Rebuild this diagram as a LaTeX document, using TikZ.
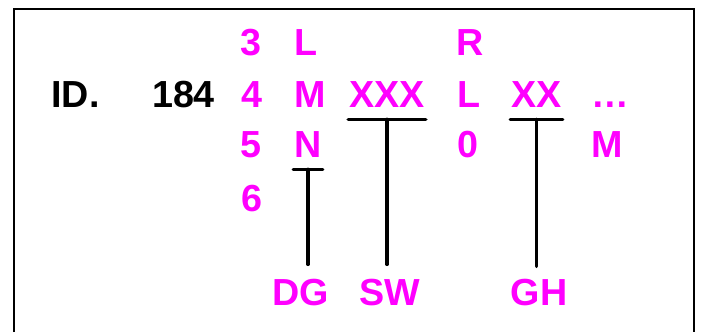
\documentclass[tikz,border=0pt]{standalone}
\usepackage{fontspec}
\setmainfont{Liberation Sans}
\definecolor{codepink}{HTML}{FF00FF}

\begin{document}
\begin{tikzpicture}[x=1pt, y=1pt,
    code/.style={
        font=\bfseries\fontsize{37.7}{40}\selectfont, text=codepink,
        anchor=base, inner xsep=1pt, inner ysep=11pt
    },
    head/.style={
        code, text=black
    },
    bar/.style={
        line width=3.2pt, line cap=round
    }
]
\useasboundingbox (0,0) rectangle (701,332);

% Frame (open at the bottom)
\draw[line width=2pt] (13.5,0) -- (13.5,322.7) -- (694,322.7) -- (694,0);

% Row 1
\node[code] (r1a) at (251, 276) {3};
\node[code] (r1b) at (306, 276) {L};
\node[code] (r1c) at (470, 276) {R};

% Row 2
\node[head] (id)  at (75.5, 224) {ID.};
\node[head] (num) at (183.5, 224) {184};
\node[code] (r2a) at (252, 224) {4};
\node[code] (r2b) at (310, 224) {M};
\node[code] (xxx) at (387, 224) {XXX};
\node[code] (r2c) at (469, 224) {L};
\node[code] (xx)  at (536.5, 224) {XX};
\node[code] (dots) at (610, 224) {…};

% Row 3
\node[code] (r3a) at (251, 174) {5};
\node[code] (n)   at (308, 174) {N};
\node[code] (r3c) at (467.5, 174) {0};
\node[code] (r3d) at (607.5, 174) {M};

% Row 4
\node[code] (r4a) at (251.5, 120) {6};

% Field labels
\node[code, inner ysep=14pt] (dg) at (300.5, 27) {DG};
\node[code, inner ysep=14pt] (sw) at (390, 27) {SW};
\node[code, inner ysep=12pt] (gh) at (539, 27) {GH};

% Brackets
\draw[bar] (n.south west) -- (n.south east);
\draw[bar] (n.south) -- (n.south |- dg.north);
\draw[bar] (xxx.south west) -- (xxx.south east);
\draw[bar] (xxx.south) -- (xxx.south |- sw.north);
\draw[bar] (xx.south west) -- (xx.south east);
\draw[bar] (xx.south) -- (xx.south |- gh.north);

\end{tikzpicture}
\end{document}
